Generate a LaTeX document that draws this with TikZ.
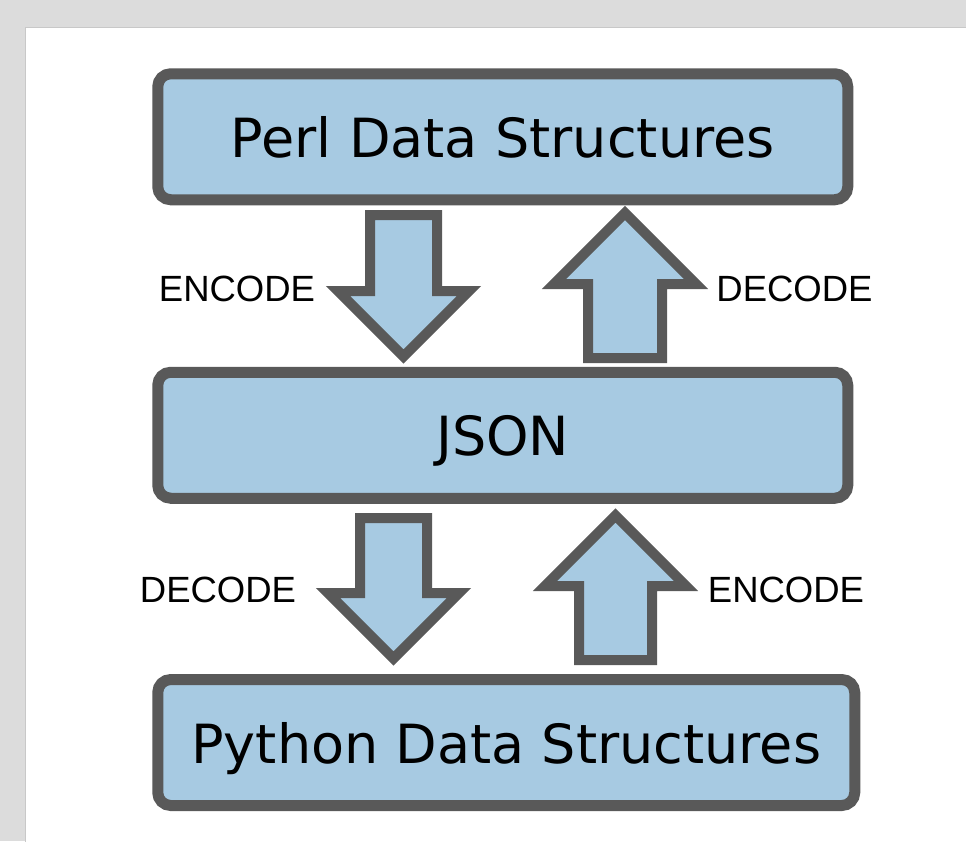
\documentclass[tikz,border=0pt]{standalone}
\usepackage{fontspec}
\usepackage{tikz}
\usetikzlibrary{positioning, calc}

\newfontfamily\boxfont{DejaVu Sans}
\newfontfamily\labelfont{Liberation Sans}

\definecolor{boxblue}{HTML}{A7CAE2}
\definecolor{edgegray}{HTML}{595959}
\definecolor{bggray}{HTML}{DCDCDC}
\definecolor{pagegray}{HTML}{C8C8C8}

\tikzset{
    databox/.style={draw=edgegray, fill=boxblue, line width=11pt, rounded corners=13pt,
                    minimum height=126pt, text depth=0pt, font=\boxfont\fontsize{54}{60}\selectfont},
    arrowbox/.style={draw=edgegray, fill=boxblue, line width=10pt, line join=miter},
    opname/.style={font=\labelfont\fontsize{36.5}{40}\selectfont, inner sep=0pt}
}

% tail, tip, shaft half width, head half width (tip angle is 90 degrees)
\newcommand{\blockarrow}[4]{%
    \draw[arrowbox] let \p1=(#1), \p2=(#2), \n1={sign(\y2-\y1)}, \n2={\y2-\n1*#4pt} in
        ({\x1-#3pt},\y1) -- ({\x1+#3pt},\y1) -- ({\x1+#3pt},{\n2*1pt}) -- ({\x1+#4pt},{\n2*1pt})
        -- (\x2,\y2) -- ({\x1-#4pt},{\n2*1pt}) -- ({\x1-#3pt},{\n2*1pt}) -- cycle;}

\begin{document}
\begin{tikzpicture}[x=1pt, y=-1pt]
    \useasboundingbox (0,0) rectangle (966,841);
    \fill[bggray] (0,0) rectangle (966,841);
    \draw[pagegray, fill=white, line width=1.5pt] (25.5,27.5) rectangle (970,845);

    % the three layers
    \node[databox, minimum width=690pt] (perl) at (502.75,136.75) {Perl Data Structures};
    \node[databox, minimum width=690pt] (json) at (502.75,435.25) {JSON};
    \node[databox, minimum width=697pt] (python) at (506.25,742.5) {Python Data Structures};

    % Perl <-> JSON
    \coordinate (enc1 tail) at (403.5,215);
    \coordinate (enc1 tip)  at (403.5,356.5);
    \coordinate (dec1 tail) at (625,358);
    \coordinate (dec1 tip)  at (625,213);
    \blockarrow{enc1 tail}{enc1 tip}{33.5}{65.5}
    \blockarrow{dec1 tail}{dec1 tip}{37}{71}
    \node[opname] (enc1 label) at (237,289) {ENCODE};
    \node[opname] (dec1 label) at (794.5,289) {DECODE};

    % JSON <-> Python
    \coordinate (dec2 tail) at (393.5,518);
    \coordinate (dec2 tip)  at (393.5,658.5);
    \coordinate (enc2 tail) at (615.5,660);
    \coordinate (enc2 tip)  at (615.5,515.5);
    \blockarrow{dec2 tail}{dec2 tip}{33.5}{65.5}
    \blockarrow{enc2 tail}{enc2 tip}{36.5}{70.5}
    \node[opname] (dec2 label) at (218,590) {DECODE};
    \node[opname] (enc2 label) at (786,590) {ENCODE};
\end{tikzpicture}
\end{document}
